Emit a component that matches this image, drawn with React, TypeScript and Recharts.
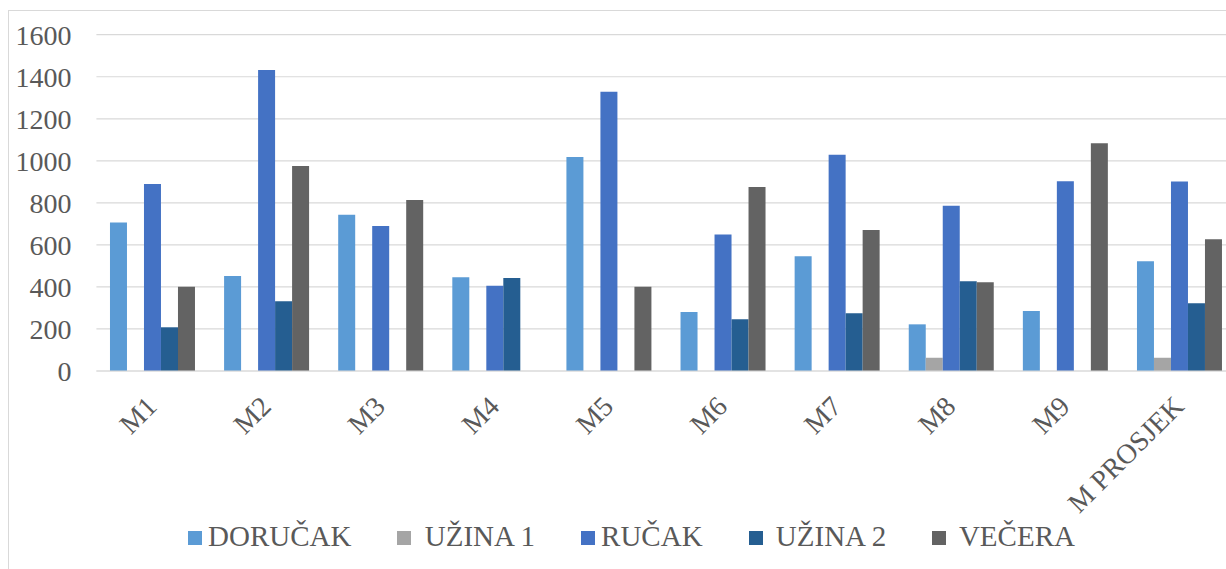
import { Bar, BarChart, CartesianGrid, XAxis, YAxis } from "recharts";

const MEALS = ["M1", "M2", "M3", "M4", "M5", "M6", "M7", "M8", "M9", "M PROSJEK"];

const DORUCAK = [706, 452, 743, 446, 1018, 281, 546, 222, 286, 522];
const UZINA_1 = [0, 0, 0, 0, 0, 0, 0, 63, 0, 63];
const RUCAK = [890, 1432, 690, 406, 1329, 649, 1029, 786, 903, 902];
const UZINA_2 = [208, 332, 0, 443, 0, 246, 275, 427, 0, 322];
const VECERA = [401, 975, 814, 0, 401, 876, 671, 422, 1084, 627];

const Y_TICKS = [0, 200, 400, 600, 800, 1000, 1200, 1400, 1600];

const SERIES = [
  { key: "dorucak", name: "DORUČAK", color: "#5B9BD5", values: DORUCAK },
  { key: "uzina1", name: " UŽINA 1", color: "#A5A5A5", values: UZINA_1 },
  { key: "rucak", name: "RUČAK", color: "#4472C4", values: RUCAK },
  { key: "uzina2", name: " UŽINA 2", color: "#255E91", values: UZINA_2 },
  { key: "vecera", name: " VEČERA", color: "#636363", values: VECERA },
];

const data = MEALS.map((meal, i) => {
  const row: Record<string, string | number> = { meal };
  SERIES.forEach((s) => {
    row[s.key] = s.values[i];
  });
  return row;
});

const FONT = '"Liberation Serif", "Times New Roman", serif';
const TEXT = "#595959";

function MealTick(props: any) {
  const { x, y, payload } = props;
  return (
    <g transform={`translate(${x + 5},${y + 37})`}>
      <text
        transform="rotate(-45)"
        textAnchor="end"
        fill={TEXT}
        fontSize={28}
        fontFamily={FONT}
      >
        {payload.value}
      </text>
    </g>
  );
}

export default function App() {
  return (
    <div
      style={{
        position: "fixed",
        inset: 0,
        overflow: "hidden",
        background: "#fff",
        fontFamily: FONT,
      }}
    >
      <div
        style={{
          position: "absolute",
          left: 8,
          top: 10,
          width: 1300,
          height: 600,
          borderLeft: "1px solid #d9d9d9",
          borderTop: "1px solid #d9d9d9",
        }}
      />
      <div style={{ position: "absolute", left: 8, top: 10 }}>
        <BarChart
          width={1250}
          height={560}
          data={data}
          margin={{ top: 24.7, right: 20.5, bottom: 49, left: 0 }}
          barCategoryGap="11.9%"
          barGap={0}
        >
          <CartesianGrid vertical={false} stroke="#d9d9d9" strokeWidth={1.2} />
          <YAxis
            width={88.4}
            domain={[0, 1600]}
            ticks={Y_TICKS}
            axisLine={false}
            tickLine={false}
            tickSize={0}
            tickMargin={25}
            tick={{ fill: TEXT, fontSize: 28, fontFamily: FONT }}
          />
          <XAxis
            dataKey="meal"
            height={150}
            axisLine={{ stroke: "#d9d9d9", strokeWidth: 1.2 }}
            tickLine={false}
            tickSize={0}
            tickMargin={0}
            interval={0}
            tick={<MealTick />}
          />
          {SERIES.map((s) => (
            <Bar
              key={s.key}
              dataKey={s.key}
              name={s.name}
              fill={s.color}
              isAnimationActive={false}
            />
          ))}
        </BarChart>
      </div>
      <div
        style={{
          position: "absolute",
          left: 8,
          top: 516,
          width: 1247,
          height: 40,
          display: "flex",
          justifyContent: "center",
          alignItems: "center",
          fontSize: 29,
          lineHeight: "40px",
          color: TEXT,
        }}
      >
        {SERIES.map((s, i) => (
          <div
            key={s.key}
            style={{
              display: "flex",
              alignItems: "center",
              marginRight: i < SERIES.length - 1 ? 46 : 0,
            }}
          >
            <span
              style={{
                width: 14,
                height: 14,
                background: s.color,
                marginRight: 6,
                position: "relative",
                top: 2,
              }}
            />
            <span style={{ whiteSpace: "pre" }}>{s.name}</span>
          </div>
        ))}
      </div>
    </div>
  );
}
